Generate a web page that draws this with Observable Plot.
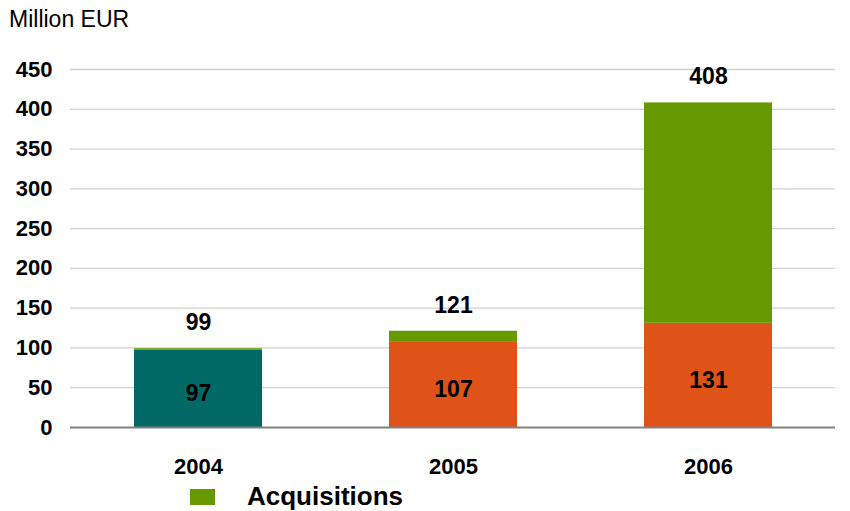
<!DOCTYPE html>
<html>
<head>
<meta charset="utf-8">
<script src="https://cdn.jsdelivr.net/npm/d3@7"></script>
<script src="https://cdn.jsdelivr.net/npm/@observablehq/plot@0.6"></script>
<style>
  body { margin: 0; background: #fff; font-family: "Liberation Sans", Arial, sans-serif; }
  #wrap { position: relative; width: 850px; height: 511px; overflow: hidden; }
  #title { position: absolute; left: 9px; top: 6px; font-size: 23px; color: #000; }
  #legend { position: absolute; left: 190px; top: 481px; display: flex; align-items: center; font-size: 26px; font-weight: bold; color: #000; }
  #legend .sw { width: 25px; height: 16px; background: #669900; margin-right: 32px; }
  #chart { position: absolute; left: 0; top: 0; }
</style>
</head>
<body>
<div id="wrap">
  <div id="chart"></div>
  <div id="title">Million EUR</div>
  <div id="legend"><span class="sw"></span><span>Acquisitions</span></div>
</div>
<script>
const years = ["2004", "2005", "2006"];
const base = [97, 107, 131];
const acquisitions = [2, 14, 277];
const totals = [99, 121, 408];
const baseColors = ["#006966", "#DF5318", "#DF5318"];
const acqColor = "#669900";
const yTicks = [0, 50, 100, 150, 200, 250, 300, 350, 400, 450];

const data = years.map((y, i) => ({
  year: y, base: base[i], acq: acquisitions[i], total: totals[i], color: baseColors[i],
  top: base[i] + acquisitions[i]
}));

const plot = Plot.plot({
  width: 850,
  height: 480,
  marginTop: 69,
  marginBottom: 53,
  marginLeft: 70,
  marginRight: 15,
  style: { fontFamily: "'Liberation Sans', Arial, sans-serif", background: "#fff" },
  x: { domain: years, paddingInner: 0.5, paddingOuter: 0.25, label: null },
  y: { domain: [0, 450], ticks: yTicks, label: null },
  color: { type: "identity" },
  marks: [
    Plot.gridY(yTicks.filter(t => t > 0), { stroke: "#d0d0d0", strokeOpacity: 1, strokeWidth: 1.3 }),
    Plot.barY(data, { x: "year", y1: 0, y2: "base", fill: "color", inset: 0 }),
    Plot.barY(data, { x: "year", y1: "base", y2: "top", fill: acqColor, inset: 0 }),
    Plot.ruleY([0], { stroke: "#808080", strokeWidth: 2 }),
    Plot.text(data, { x: "year", y: d => d.base / 2, text: d => String(d.base), dy: 5, fontSize: 23, fontWeight: "bold", fill: "#000" }),
    Plot.text(data, { x: "year", y: "total", text: d => String(d.total), dy: -26, fontSize: 23, fontWeight: "bold", fill: "#000" }),
    Plot.axisY({ ticks: yTicks, tickSize: 0, tickPadding: 18, fontSize: 22, fontWeight: "bold", label: null, tickFormat: d => String(d) }),
    Plot.axisX({ tickSize: 0, tickPadding: 31, fontSize: 22, fontWeight: "bold", label: null })
  ]
});
plot.querySelectorAll("g[aria-label='y-axis tick label'] text, g[aria-label='x-axis tick label'] text").forEach(t => t.setAttribute("fill", "#000"));
document.getElementById("chart").appendChild(plot);
</script>
</body>
</html>
